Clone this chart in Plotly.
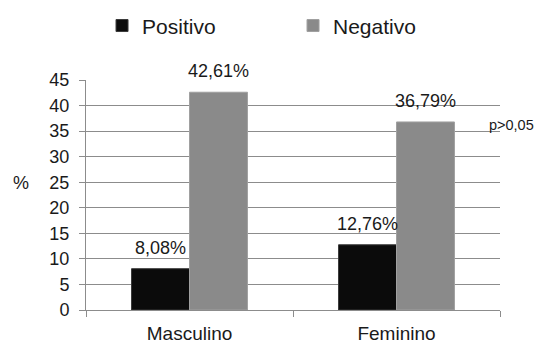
import plotly.graph_objects as go

categories = ["Masculino", "Feminino"]
positivo = [8.08, 12.76]
negativo = [42.61, 36.79]
pos_labels = ["8,08%", "12,76%"]
neg_labels = ["42,61%", "36,79%"]
y_ticks = [0, 5, 10, 15, 20, 25, 30, 35, 40, 45]

FONT = "Liberation Sans, Arial, sans-serif"
TXT = "#1a1a1a"

fig = go.Figure()
fig.add_trace(go.Bar(name="Positivo", x=categories, y=positivo,
                     marker=dict(color="#0b0b0b", line=dict(color="#3a3a3a", width=1))))
fig.add_trace(go.Bar(name="Negativo", x=categories, y=negativo,
                     marker=dict(color="#8a8a8a", line=dict(color="#a0a0a0", width=1))))

anns = []
for c, v, t in zip(categories, positivo, pos_labels):
    anns.append(dict(x=c, y=v, text=t, xref="x", yref="y", showarrow=False,
                     xshift=-29, yshift=21, yanchor="middle",
                     font=dict(size=18, color=TXT, family=FONT)))
for c, v, t in zip(categories, negativo, neg_labels):
    anns.append(dict(x=c, y=v, text=t, xref="x", yref="y", showarrow=False,
                     xshift=29, yshift=21, yanchor="middle",
                     font=dict(size=18, color=TXT, family=FONT)))
anns.append(dict(x=1.087, y=0.805, xref="paper", yref="paper", text="p>0,05",
                 showarrow=False, xanchor="right", yanchor="middle",
                 font=dict(size=14.5, color=TXT, family=FONT)))
anns.append(dict(x=-0.157, y=0.552, xref="paper", yref="paper", text="%",
                 showarrow=False, xanchor="center", yanchor="middle",
                 font=dict(size=18, color=TXT, family=FONT)))

fig.update_layout(
    width=537, height=345,
    margin=dict(l=86, r=37, t=80, b=35, autoexpand=False),
    paper_bgcolor="white", plot_bgcolor="white",
    barmode="group", bargap=0.44, bargroupgap=0.0,
    font=dict(family=FONT, color=TXT, size=18),
    showlegend=True,
    legend=dict(orientation="h", xref="container", yref="container",
                x=0.19, xanchor="left", y=0.925, yanchor="middle",
                font=dict(size=21, color=TXT, family=FONT),
                entrywidth=146, entrywidthmode="pixels",
                bgcolor="rgba(0,0,0,0)"),
    annotations=anns,
    xaxis=dict(showline=True, linecolor="#8c8c8c", linewidth=1, automargin=False,
               ticks="outside", tickson="boundaries", ticklen=6, tickcolor="#8c8c8c",
               tickfont=dict(size=19, color=TXT, family=FONT), showgrid=False,
               ticklabelstandoff=6),
    yaxis=dict(range=[0, 45], tickvals=y_ticks, showline=True, linecolor="#8c8c8c",
               linewidth=1, ticks="outside", ticklen=6, tickcolor="#8c8c8c", automargin=False,
               showgrid=True, gridcolor="#8c8c8c", gridwidth=1, zeroline=False,
               tickfont=dict(size=18, color=TXT, family=FONT), ticklabelstandoff=6),
)

fig.write_html("out.html")
